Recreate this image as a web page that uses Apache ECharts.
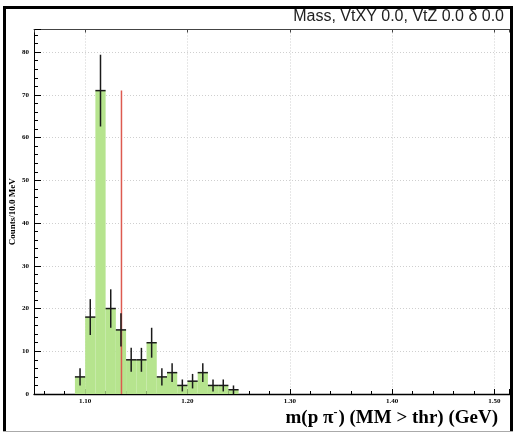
<!DOCTYPE html>
<html>
<head>
<meta charset="utf-8">
<script src="https://cdn.jsdelivr.net/npm/echarts@6/dist/echarts.min.js"></script>
<style>
html,body{margin:0;padding:0;background:#fff;}
#chart{width:513px;height:434px;}
</style>
</head>
<body>
<div id="chart"></div>
<script>
// Histogram bins (lower edges, GeV), bin width 10 MeV
var binStart = [1.09, 1.10, 1.11, 1.12, 1.13, 1.14, 1.15, 1.16, 1.17, 1.18, 1.19, 1.20, 1.21, 1.22, 1.23, 1.24];
var binWidth = 0.01;
var counts   = [4, 18, 71, 20, 15, 8, 8, 12, 4, 5, 2, 3, 5, 2, 2, 1];
var errors   = [2.0, 4.2, 8.4, 4.5, 3.9, 2.8, 2.8, 3.5, 2.0, 2.2, 1.4, 1.7, 2.2, 1.4, 1.4, 1.0];
// Cut line
var cutX = 1.1355;
var cutTop = 71;
// Axis ranges
var xMin = 1.05, xMax = 1.515;
var yMin = 0, yMax = 85.3, yStep = 10;

var titleText = 'Mass, VtXY 0.0, VtZ 0.0 \u03b4 0.0';
var yName = 'Counts/10.0 MeV';

var histData = binStart.map(function (s, i) { return [s, s + binWidth, counts[i], errors[i]]; });

var serif = 'Liberation Serif';
var labelStyle = { fontFamily: serif, fontWeight: 'bold', fontSize: 7, color: '#000' };
var gridLine = { show: true, showMinLine: false, showMaxLine: false, lineStyle: { color: '#cfcfcf', width: 1, type: [1, 2] } };

var chart = echarts.init(document.getElementById('chart'), null, { renderer: 'canvas' });
chart.setOption({
  animation: false,
  backgroundColor: '#fff',
  title: [
    { text: titleText, right: 9, top: 9, padding: 0,
      textStyle: { fontFamily: 'Liberation Sans', fontWeight: 'normal', fontSize: 16, color: '#222' } },
    { text: '{n|m(p \u03c0}{s|-}{n|) (MM > thr) (GeV)}', right: 15, top: 407, padding: 0,
      textStyle: { rich: {
        n: { fontFamily: serif, fontWeight: 'bold', fontSize: 19, color: '#000', verticalAlign: 'bottom' },
        s: { fontFamily: serif, fontWeight: 'bold', fontSize: 12, color: '#000', verticalAlign: 'bottom', padding: [0, 1, 9, 0] }
      } } }
  ],
  grid: { left: 34, top: 29.5, right: 3.3, bottom: 40, containLabel: false, outerBoundsMode: 'none' },
  xAxis: [
    { type: 'value', min: xMin, max: xMax, position: 'bottom', splitNumber: 5,
      axisLine: { show: true, onZero: false, lineStyle: { color: '#000', width: 1.3 } },
      axisTick: { show: true, inside: true, length: 5, lineStyle: { color: '#000', width: 1 } },
      minorTick: { show: true, splitNumber: 5, length: 3, lineStyle: { color: '#000', width: 1 } },
      axisLabel: Object.assign({ margin: 4, showMinLabel: false, showMaxLabel: false,
        formatter: function (v) { return v.toFixed(2); } }, labelStyle),
      splitLine: gridLine },
    { type: 'value', min: xMin, max: xMax, position: 'top', splitNumber: 5,
      axisLine: { show: true, onZero: false, lineStyle: { color: '#444', width: 1 } },
      axisTick: { show: true, inside: true, length: 3, lineStyle: { color: '#444', width: 1 } },
      axisLabel: { show: false }, splitLine: { show: false } }
  ],
  yAxis: {
    type: 'value', min: yMin, max: yMax, interval: yStep,
    name: yName, nameLocation: 'middle', nameGap: 17, nameMoveOverlap: false,
    nameTextStyle: { fontFamily: serif, fontWeight: 'bold', fontSize: 9, color: '#000' },
    axisLine: { show: true, onZero: false, lineStyle: { color: '#000', width: 1 } },
    axisTick: { show: true, inside: true, length: 7, lineStyle: { color: '#000', width: 1 } },
    minorTick: { show: true, splitNumber: 5, length: 4, lineStyle: { color: '#000', width: 1 } },
    axisLabel: Object.assign({ margin: 5, showMaxLabel: false }, labelStyle),
    splitLine: gridLine
  },
  graphic: [
    { type: 'rect', shape: { x: 3, y: 6, width: 3, height: 426 }, style: { fill: '#000' }, z: 100 },
    { type: 'rect', shape: { x: 3, y: 6, width: 510, height: 3 }, style: { fill: '#000' }, z: 100 },
    { type: 'rect', shape: { x: 510, y: 6, width: 3, height: 426 }, style: { fill: '#000' }, z: 100 },
    { type: 'rect', shape: { x: 3, y: 431, width: 510, height: 1 }, style: { fill: '#aaa' }, z: 100 }
  ],
  series: [
    { type: 'custom', name: 'hist', data: histData, encode: { x: [0, 1], y: 2 }, z: 2,
      renderItem: function (params, api) {
        var p0 = api.coord([api.value(0), api.value(2)]);
        var p1 = api.coord([api.value(1), 0]);
        return { type: 'rect', shape: { x: p0[0], y: p0[1], width: p1[0] - p0[0], height: p1[1] - p0[1] },
                 style: { fill: '#b6e48e' } };
      } },
    { type: 'line', name: 'cut', data: [[cutX, 0], [cutX, cutTop]], showSymbol: false, symbol: 'none', z: 3,
      lineStyle: { color: '#dd5a50', width: 1.5 } },
    { type: 'custom', name: 'err', data: histData, encode: { x: [0, 1], y: 2 }, z: 4,
      renderItem: function (params, api) {
        var lo = api.value(0), hi = api.value(1), v = api.value(2), e = api.value(3);
        var mid = (lo + hi) / 2;
        var a = api.coord([lo, v]), b = api.coord([hi, v]);
        var t = api.coord([mid, v + e]), u = api.coord([mid, Math.max(v - e, 0)]);
        var st = { stroke: '#1a1a1a', lineWidth: 1.5 };
        return { type: 'group', children: [
          { type: 'line', shape: { x1: a[0], y1: a[1], x2: b[0], y2: b[1] }, style: st },
          { type: 'line', shape: { x1: t[0], y1: t[1], x2: u[0], y2: u[1] }, style: st }
        ] };
      } }
  ]
});
</script>
</body>
</html>
